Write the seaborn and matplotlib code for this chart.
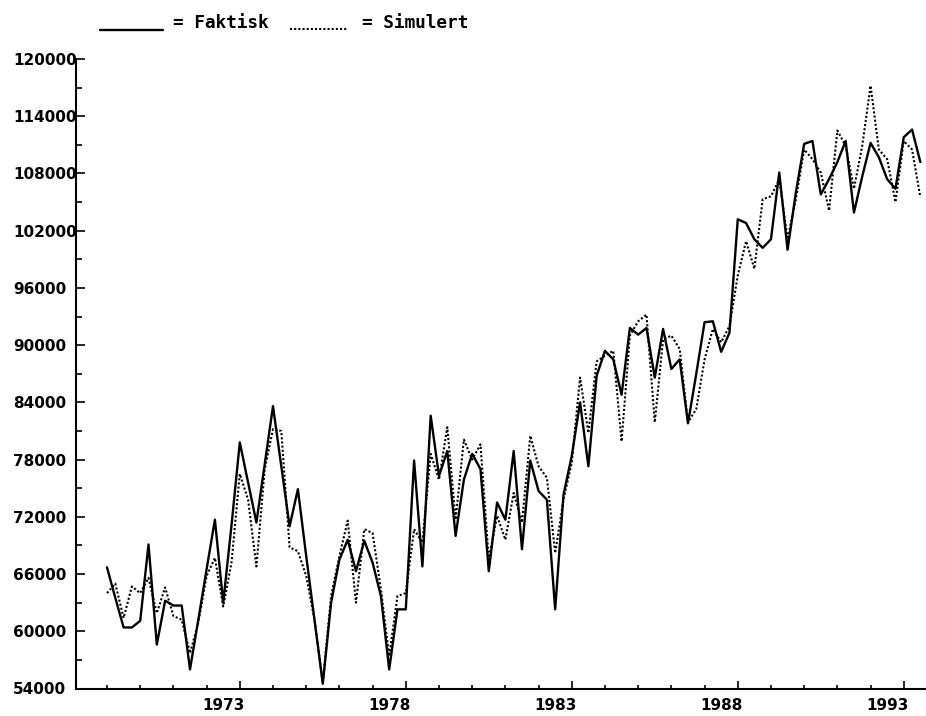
import matplotlib
matplotlib.use("Agg")
import numpy as np
import pandas as pd
import matplotlib.pyplot as plt
import seaborn as sns
from matplotlib.ticker import MultipleLocator
from matplotlib.lines import Line2D
from matplotlib.transforms import ScaledTranslation

# Quarterly series, 1969Q1 - 1993Q3
quarters = pd.period_range("1969Q1", "1993Q3", freq="Q")

faktisk = [
    66700, 63500, 60400, 60400, 61100, 69100, 58600, 63200,
    62700, 62700, 56000, 61200, 66500, 71700, 63000, 71100,
    79800, 75600, 71400, 77500, 83600, 77300, 71000, 74900,
    67900, 61200, 54500, 63000, 67500, 69600, 66300, 69500,
    67200, 63700, 56000, 62300, 62300, 77900, 66800, 82600,
    76300, 78900, 70000, 75900, 78600, 77000, 66300, 73500,
    71700, 78900, 68600, 77900, 74700, 73800, 62300, 74300,
    78400, 84000, 77300, 86800, 89400, 88500, 84800, 91800,
    91100, 91800, 86600, 91700, 87500, 88500, 81800, 87000,
    92400, 92500, 89300, 91300, 103200, 102800, 101100, 100200,
    101100, 108100, 100000, 106000, 111100, 111400, 105800, 107400,
    109200, 111400, 103900, 107700, 111200, 109700, 107400, 106400,
    111800, 112600, 109200,
]

simulert = [
    64000, 65000, 61400, 64700, 64000, 65600, 61900, 64600,
    61600, 61200, 57700, 60900, 65800, 67700, 62600, 67200,
    76500, 73800, 66800, 77000, 81200, 81000, 68800, 68400,
    65800, 61200, 54600, 63700, 67900, 71600, 63000, 70700,
    70300, 64400, 57400, 63700, 64000, 70700, 69300, 78600,
    75900, 81400, 71700, 80100, 78000, 79600, 67500, 72100,
    69600, 74500, 71400, 80500, 77300, 76100, 68200, 73800,
    77700, 86600, 80800, 88300, 88900, 89400, 79900, 91000,
    92500, 93200, 81900, 90600, 91000, 89600, 81900, 83300,
    88500, 91700, 90300, 92000, 97300, 100900, 98000, 105300,
    105600, 107400, 101100, 105300, 110500, 109500, 108100, 104100,
    112500, 110900, 106400, 110900, 117200, 110500, 109500, 105000,
    111400, 110500, 105500,
]

year_ticks = [1973, 1978, 1983, 1988, 1993]
minor_years = list(range(1969, 1994))
value_ticks = list(range(54000, 120001, 6000))

tid = quarters.year + (quarters.quarter - 1) / 4
df = pd.DataFrame({"tid": tid, "Faktisk": faktisk, "Simulert": simulert})
long = df.melt(id_vars="tid", var_name="serie", value_name="verdi")

sns.set_style("white")
plt.rcParams["font.family"] = ["DejaVu Sans"]
plt.rcParams["text.color"] = "black"
plt.rcParams["xtick.color"] = "black"
plt.rcParams["ytick.color"] = "black"

W, H = 926, 716
fig = plt.figure(figsize=(W / 100, H / 100), dpi=100)
ax = fig.add_axes([76 / W, 1 - 688.5 / H, (W - 76) / W, (688.5 - 59) / H])

sns.lineplot(
    data=long, x="tid", y="verdi",
    hue="serie", palette={"Faktisk": "black", "Simulert": "black"},
    style="serie", dashes={"Faktisk": "", "Simulert": (1, 1)},
    size="serie", sizes={"Faktisk": 1.7, "Simulert": 1.5},
    estimator=None, legend=False, ax=ax,
)

ax.set_xlim(1968.066, 1993.67)
ax.set_ylim(54000, 120000)
ax.set_xlabel("")
ax.set_ylabel("")

for side in ("top", "right"):
    ax.spines[side].set_visible(False)
for side in ("left", "bottom"):
    ax.spines[side].set_linewidth(1.5)
    ax.spines[side].set_color("black")

ax.set_xticks(year_ticks)
ax.set_xticks(minor_years, minor=True)
ax.set_xticklabels([str(y) for y in year_ticks])
ax.set_yticks(value_ticks)
ax.set_yticklabels([str(v) for v in value_ticks])
ax.yaxis.set_minor_locator(MultipleLocator(3000))

ax.tick_params(axis="x", which="both", bottom=True, top=False)
ax.tick_params(axis="y", which="both", left=True, right=False)
ax.tick_params(axis="x", which="major", direction="in", length=5.5, width=1.2,
               color="black", labelcolor="black", pad=6.5, labelsize=11)
ax.tick_params(axis="x", which="minor", direction="in", length=3, width=1.2,
               color="black")
ax.tick_params(axis="y", which="major", direction="in", length=6.5, width=1.2,
               color="black", labelcolor="black", pad=45.4, labelsize=11)
ax.tick_params(axis="y", which="minor", direction="in", length=4.2, width=1.2,
               color="black")

# Settle the tick objects first, then adjust the label alignment
fig.canvas.draw()
shift = ScaledTranslation(5 / 100, 0, fig.dpi_scale_trans)
for tick in ax.xaxis.get_major_ticks():
    lab = tick.label1
    lab.set_fontweight("bold")
    lab.set_horizontalalignment("right")
    lab.set_transform(ax.get_xaxis_text1_transform(tick._pad)[0] + shift)
for tick in ax.yaxis.get_major_ticks():
    lab = tick.label1
    lab.set_fontweight("bold")
    lab.set_horizontalalignment("left")

# Key above the plot: line sample followed by "= name"
head_font = dict(family="DejaVu Sans Mono", weight="bold", size=12.8,
                 color="black")
fig.add_artist(Line2D([100 / W, 163 / W], [1 - 30 / H, 1 - 30 / H],
                      color="black", lw=1.7, transform=fig.transFigure))
fig.text(173 / W, 1 - 28 / H, "= Faktisk", ha="left", va="baseline", **head_font)
fig.add_artist(Line2D([290 / W, 348 / W], [1 - 29 / H, 1 - 29 / H],
                      color="black", lw=1.5, linestyle=(0, (1, 1)),
                      transform=fig.transFigure))
fig.text(362 / W, 1 - 28 / H, "= Simulert", ha="left", va="baseline", **head_font)

fig.savefig("out.png", dpi=100, facecolor="white")
